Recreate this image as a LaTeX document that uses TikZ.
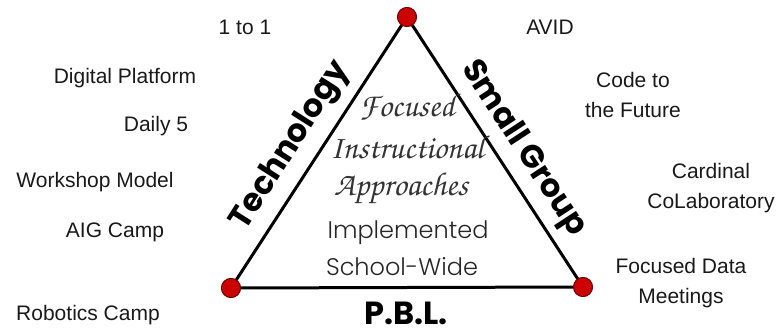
\documentclass[tikz,border=0pt]{standalone}
\usepackage[T1]{fontenc}
\usepackage{fontspec}
\setmainfont{Liberation Sans}
\newfontfamily\roundbold{Poppins}
\newfontfamily\roundthin{Poppins Light}
\usetikzlibrary{calc}
\usetikzlibrary{positioning}
\newcommand\handscript{\fontencoding{T1}\fontfamily{pzc}\fontseries{mb}\fontshape{it}\selectfont}
\tikzset{%
  vertexdot/.style={circle,fill=red!80!black,draw=red!40!black,line width=0.8pt,minimum size=19pt,inner sep=0pt},
  sideline/.style={line width=3pt,black},
  practice/.style={align=center,font=\fontsize{21}{30}\selectfont,text=black!90,inner sep=0pt},
  sidelabel/.style={font=\roundbold\bfseries\fontsize{32}{32}\selectfont,inner sep=0pt},
  centerscript/.style={font=\handscript\fontsize{33}{40}\selectfont,text=black!80,inner sep=0pt},
  centerplain/.style={font=\roundthin\fontsize{24}{34}\selectfont,text=black!85,inner sep=0pt}
}

\begin{document}
\begin{tikzpicture}[x=1pt,y=-1pt]
    \useasboundingbox (0,0) rectangle (780,334);
    % triangle
    \node[vertexdot] (vtop) at (407,17) {};
    \node[vertexdot] (vleft) at (231,288) {};
    \node[vertexdot] (vright) at (583,287) {};
    \draw[sideline] (vtop) -- (vleft) -- (vright) -- (vtop);
    \node[vertexdot] at (vtop) {};
    \node[vertexdot] at (vleft) {};
    \node[vertexdot] at (vright) {};
    % sides
    \node[sidelabel,rotate=57.5] (tech) at (291,146) {Technology};
    \node[sidelabel,rotate=-56.8] (small) at (523,149) {Small Group};
    \node[sidelabel] (pbl) at (406,313) {P.B.L.};
    % middle
    \node[centerscript] (focused) at (407,107) {Focused};
    \node[centerscript] (instr) at (407,147) {Instructional};
    \node[centerscript] (approach) at (401,189) {Approaches};
    \node[centerplain] (impl) at (408,233) {Implemented};
    \node[centerplain] (wide) at (402,267) {School-Wide};
    % left column
    \node[practice] (onetoone) at (245,27) {1 to 1};
    \node[practice] (digital) at (125,78) {Digital Platform};
    \node[practice] (daily) at (156,126) {Daily 5};
    \node[practice] (workshop) at (95,182) {Workshop Model};
    \node[practice] (aig) at (115,232) {AIG Camp};
    \node[practice] (robotics) at (88,315) {Robotics Camp};
    % right column
    \node[practice] (avid) at (550,27) {AVID};
    \node[practice] (code) at (633,95) {Code to\\the Future};
    \node[practice] (cardinal) at (711,188) {Cardinal\\CoLaboratory};
    \node[practice] (meetings) at (681,283) {Focused Data\\Meetings};
\end{tikzpicture}
\end{document}
